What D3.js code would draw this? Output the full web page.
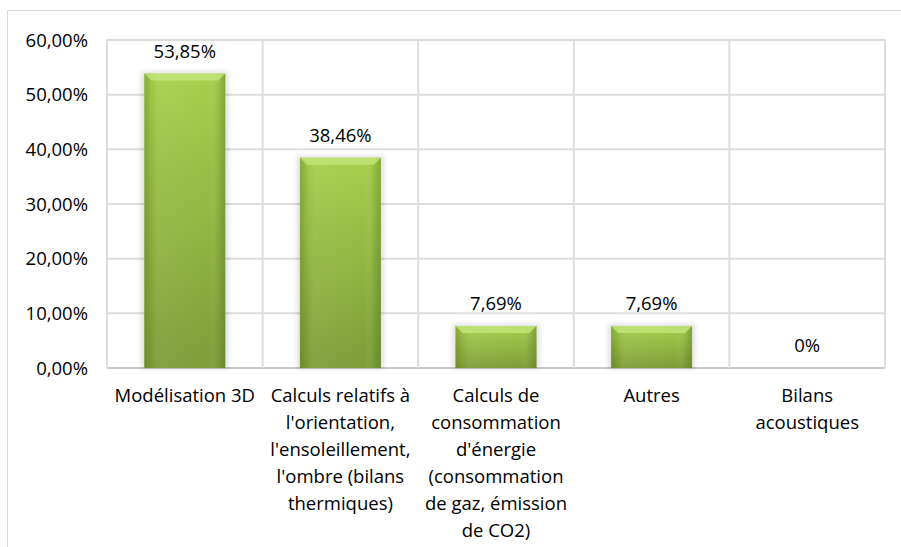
<!DOCTYPE html>
<html>
<head>
<meta charset="utf-8">
<script src="https://cdn.jsdelivr.net/npm/d3@7"></script>
<style>
  html, body { margin: 0; padding: 0; background: #fff; }
  svg { display: block; font-family: "Open Sans", "Noto Sans", sans-serif; }
</style>
</head>
<body>
<svg id="chart" width="901" height="547"></svg>
<script>
// Usage shares of software features (percent)
const categories = [
  ["Modélisation 3D"],
  ["Calculs relatifs à", "l'orientation,", "l'ensoleillement,", "l'ombre (bilans", "thermiques)"],
  ["Calculs de", "consommation", "d'énergie", "(consommation", "de gaz, émission", "de CO2)"],
  ["Autres"],
  ["Bilans", "acoustiques"]
];
const values = [53.85, 38.46, 7.69, 7.69, 0];
const valueLabels = ["53,85%", "38,46%", "7,69%", "7,69%", "0%"];
const yTicks = [0, 10, 20, 30, 40, 50, 60];
const yTickLabels = ["0,00%", "10,00%", "20,00%", "30,00%", "40,00%", "50,00%", "60,00%"];

const FS = 18.5;
const svg = d3.select("#chart");
const plot = { left: 107, right: 885, top: 40, bottom: 368 };

const x = d3.scaleBand()
  .domain(d3.range(categories.length))
  .range([plot.left, plot.right])
  .paddingInner(0).paddingOuter(0);
const y = d3.scaleLinear().domain([0, 60]).range([plot.bottom, plot.top]);

// outer chart frame
svg.append("rect")
  .attr("x", 7.5).attr("y", 10.5).attr("width", 920).attr("height", 560)
  .attr("fill", "#fff").attr("stroke", "#d9d9d9").attr("stroke-width", 1);

// gradients for the bevelled bars
const defs = svg.append("defs");
const body = defs.append("linearGradient").attr("id", "barBody")
  .attr("x1", 0).attr("y1", 0).attr("x2", 0).attr("y2", 1);
body.append("stop").attr("offset", "0%").attr("stop-color", "#a7cf4c");
body.append("stop").attr("offset", "100%").attr("stop-color", "#7e9d38");
const sides = defs.append("linearGradient").attr("id", "barSides")
  .attr("x1", 0).attr("y1", 0).attr("x2", 1).attr("y2", 0);
sides.append("stop").attr("offset", "0%").attr("stop-color", "#4f6a1c").attr("stop-opacity", 0.35);
sides.append("stop").attr("offset", "8%").attr("stop-color", "#4f6a1c").attr("stop-opacity", 0.12);
sides.append("stop").attr("offset", "20%").attr("stop-color", "#ffffff").attr("stop-opacity", 0.05);
sides.append("stop").attr("offset", "80%").attr("stop-color", "#ffffff").attr("stop-opacity", 0.0);
sides.append("stop").attr("offset", "92%").attr("stop-color", "#4f6a1c").attr("stop-opacity", 0.15);
sides.append("stop").attr("offset", "100%").attr("stop-color", "#4f6a1c").attr("stop-opacity", 0.4);
const glow = defs.append("filter").attr("id", "glow")
  .attr("x", "-20%").attr("y", "-20%").attr("width", "140%").attr("height", "140%");
glow.append("feGaussianBlur").attr("stdDeviation", 2.5);

// gridlines
svg.append("g").selectAll("line.h").data(yTicks).join("line")
  .attr("x1", plot.left).attr("x2", plot.right)
  .attr("y1", d => y(d)).attr("y2", d => y(d))
  .attr("stroke", d => d === 0 ? "#c8c8c8" : "#dcdcdc").attr("stroke-width", 2);
svg.append("g").selectAll("line.v").data(d3.range(categories.length + 1)).join("line")
  .attr("x1", d => plot.left + d * x.bandwidth()).attr("x2", d => plot.left + d * x.bandwidth())
  .attr("y1", plot.top).attr("y2", plot.bottom)
  .attr("stroke", "#dcdcdc").attr("stroke-width", 2);

// y-axis labels
svg.append("g").selectAll("text").data(yTicks).join("text")
  .attr("x", 88).attr("y", d => y(d) + 6.5)
  .attr("text-anchor", "end").attr("font-size", FS).attr("fill", "#000")
  .text((d, i) => yTickLabels[i]);

// bars
const bw = x.bandwidth() * 0.52;
const bars = svg.append("g").selectAll("g").data(values).join("g")
  .attr("transform", (d, i) => `translate(${x(i) + (x.bandwidth() - bw) / 2},0)`);
bars.filter(d => d > 0).append("rect")
  .attr("x", -3).attr("y", d => y(d) - 2)
  .attr("width", bw + 6).attr("height", d => plot.bottom - y(d) + 3)
  .attr("fill", "#000").attr("opacity", 0.12).attr("filter", "url(#glow)");
bars.filter(d => d > 0).append("rect")
  .attr("y", d => y(d)).attr("width", bw).attr("height", d => plot.bottom - y(d))
  .attr("fill", "url(#barBody)");
bars.filter(d => d > 0).append("rect")
  .attr("y", d => y(d)).attr("width", bw).attr("height", d => plot.bottom - y(d))
  .attr("fill", "url(#barSides)");
// top bevel
bars.filter(d => d > 0).append("path")
  .attr("d", d => {
    const t = y(d), b = 7;
    return `M0,${t}L${bw},${t}L${bw - b},${t + b}L${b},${t + b}Z`;
  })
  .attr("fill", "#c5e67a").attr("opacity", 0.8);

// value labels
svg.append("g").selectAll("text").data(values).join("text")
  .attr("x", (d, i) => x(i) + x.bandwidth() / 2)
  .attr("y", d => y(d) - 16)
  .attr("text-anchor", "middle").attr("font-size", FS).attr("fill", "#000")
  .text((d, i) => valueLabels[i]);

// category labels
const cat = svg.append("g").selectAll("text").data(categories).join("text")
  .attr("x", (d, i) => x(i) + x.bandwidth() / 2)
  .attr("y", 402)
  .attr("text-anchor", "middle").attr("font-size", FS).attr("fill", "#000");
cat.selectAll("tspan").data(d => d).join("tspan")
  .attr("x", function () { return d3.select(this.parentNode).attr("x"); })
  .attr("dy", (d, i) => i === 0 ? 0 : 27)
  .text(d => d);
</script>
</body>
</html>
